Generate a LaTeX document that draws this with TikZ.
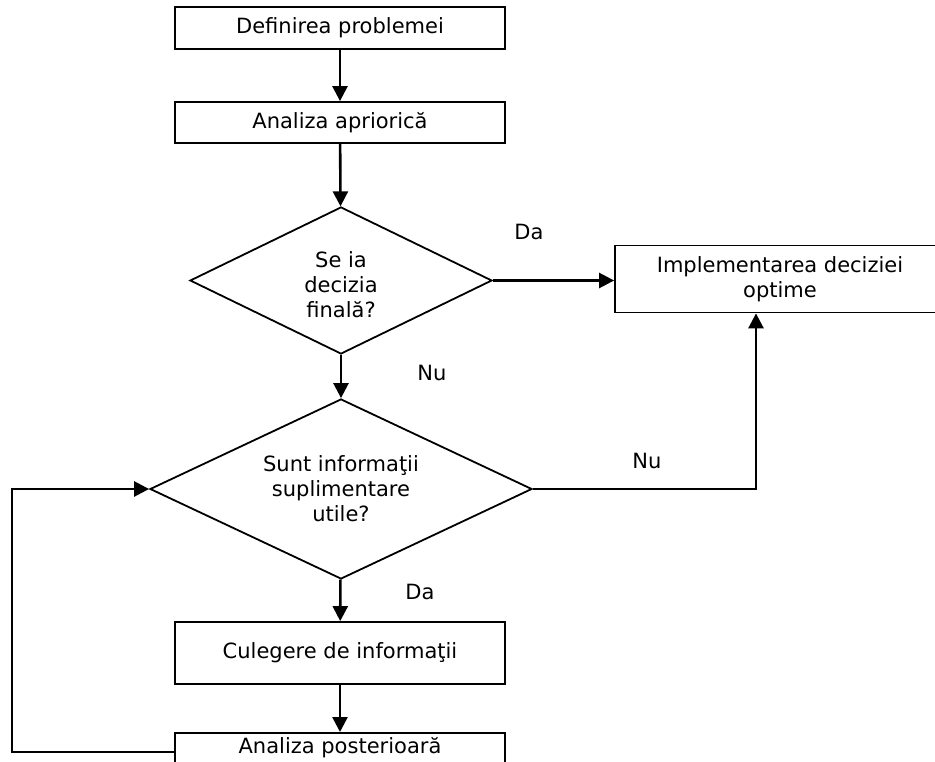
\documentclass[tikz,border=0pt]{standalone}
\usepackage{fontspec}
\setmainfont{DejaVu Sans}
\usetikzlibrary{shapes.geometric,arrows.meta}
\begin{document}
\begin{tikzpicture}[x=1pt,y=-1pt,
  font=\fontsize{21}{25}\selectfont,
  box/.style={draw,line width=1.8pt,rectangle,inner sep=0pt,align=center,minimum width=330pt},
  decision/.style={draw,line width=1.8pt,diamond,shape aspect=2,inner sep=0pt,align=center},
  flow/.style={line width=2.6pt,-{Triangle[length=15pt,width=15pt]}},
  tag/.style={inner sep=0pt}]
\useasboundingbox (0,0) rectangle (935,762);
\clip (0,0) rectangle (935,762);

% process boxes and decisions
\node[box,minimum height=42pt] (def) at (340,28) {Definirea problemei};
\node[box,minimum height=41pt] (apr) at (340,122.5) {Analiza apriorică};
\node[decision,minimum width=302pt,minimum height=147pt] (dec) at (341,280.5) {};
\node[align=center,inner sep=0pt] (dectext) at (341,285) {Se ia\\decizia\\finală?};
\node[box,minimum height=67pt] (impl) at (780,279) {Implementarea deciziei\\optime};
\node[decision,minimum width=382pt,minimum height=180pt] (info) at (341,489) {Sunt informaţii\\suplimentare\\utile?};
\node[box,minimum height=62pt] (cul) at (340,653) {Culegere de informaţii};
\node[box,anchor=north,text height=21pt,text depth=40pt] (post) at (340,732) {Analiza posterioară};

% branch labels
\node[tag] (da1) at (529,232) {Da};
\node[tag] (nu1) at (432,373) {Nu};
\node[tag] (nu2) at (647,461) {Nu};
\node[tag] (da2) at (420,592) {Da};

% connectors
\coordinate (up) at (756,489);
\coordinate (back) at (12,752);
\draw[flow] (def) -- (apr);
\draw[flow] (apr) -- (dec);
\draw[flow] (dec.east) -- (dec.east -| impl.west);
\draw[flow] (dec) -- (info);
\draw[flow] (info.east) -- (up) -- (up |- impl.south);
\draw[flow] (info) -- (cul);
\draw[flow] (cul) -- (post);
\draw[flow] (post.west |- back) -- (back) |- (info.west);
\end{tikzpicture}
\end{document}
